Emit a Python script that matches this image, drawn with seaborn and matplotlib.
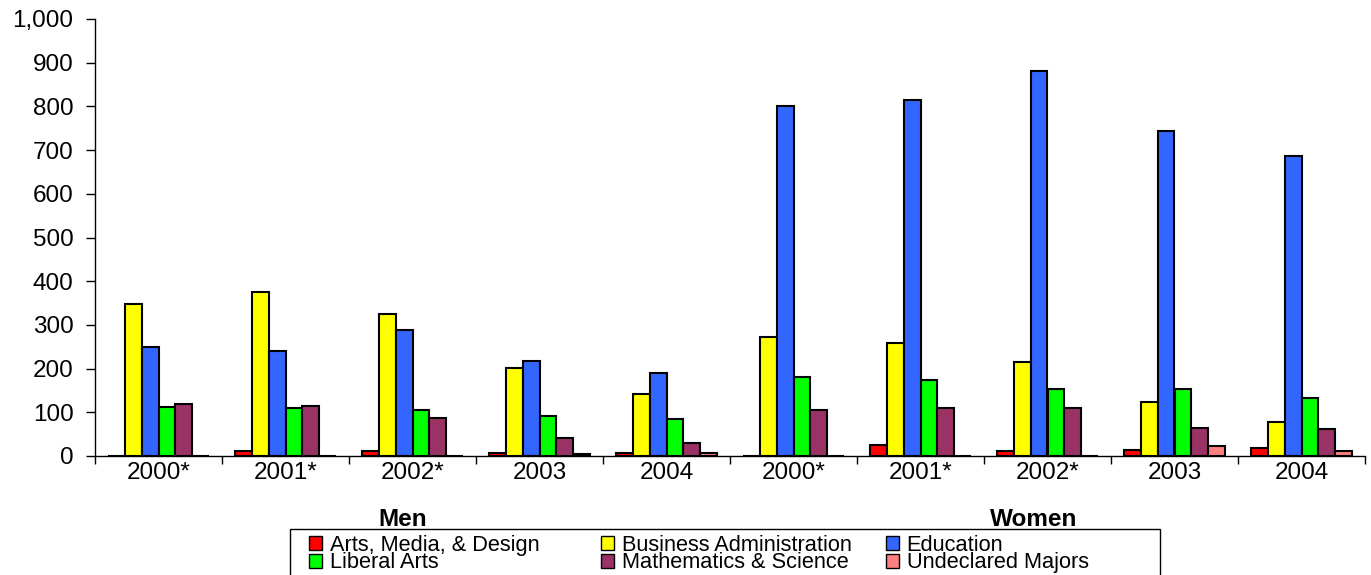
import seaborn as sns
import pandas as pd
import matplotlib.pyplot as plt
from matplotlib.ticker import FuncFormatter
from matplotlib.patches import Rectangle

# Data (Men 2000*..2004, then Women 2000*..2004)
years = ['2000*', '2001*', '2002*', '2003', '2004']
genders = ['Men', 'Women']
majors = ['Arts, Media, & Design', 'Business Administration', 'Education',
          'Liberal Arts', 'Mathematics & Science', 'Undeclared Majors']
colors = ['#FF0000', '#FFFF00', '#3366FF', '#00FF00', '#993366', '#FF8080']

arts = [0, 11, 11, 8, 8, 0, 25, 12, 13, 18]
business = [348, 375, 326, 201, 143, 272, 258, 214, 124, 78]
education = [250, 241, 288, 218, 189, 802, 815, 881, 744, 686]
liberal = [112, 109, 106, 91, 85, 181, 175, 154, 153, 132]
math_sci = [118, 114, 88, 42, 30, 105, 110, 110, 63, 62]
undeclared = [0, 0, 0, 5, 6, 0, 0, 0, 22, 12]

groups = [g + ' ' + y for g in genders for y in years]
series = [arts, business, education, liberal, math_sci, undeclared]
rows = []
for major, vals in zip(majors, series):
    for grp, v in zip(groups, vals):
        rows.append({'group': grp, 'major': major, 'count': v})
data = pd.DataFrame(rows)

sns.set_style('ticks')
plt.rcParams['font.family'] = ['Liberation Sans', 'DejaVu Sans']
plt.rcParams['text.color'] = 'black'
plt.rcParams['xtick.labelcolor'] = 'black'
plt.rcParams['ytick.labelcolor'] = 'black'

fig = plt.figure(figsize=(13.71, 5.75), dpi=100)
ax = fig.add_axes([95 / 1371, 1 - 456 / 575, (1365 - 95) / 1371, (456 - 19) / 575])

sns.barplot(data=data, x='group', y='count', hue='major', order=groups,
            hue_order=majors, palette=colors, saturation=1, width=0.8,
            edgecolor='black', linewidth=1.5, legend=False, ax=ax)

ax.set_xlim(-0.5, len(groups) - 0.5)
ax.set_ylim(0, 1000)
ax.set_yticks(range(0, 1001, 100))
ax.yaxis.set_major_formatter(FuncFormatter(lambda v, _: f'{int(v):,}'))
ax.set_xticks([i - 0.5 for i in range(len(groups) + 1)], labels=[])
ax.set_xticks(range(len(groups)), labels=years * 2, minor=True)
ax.tick_params(axis='x', which='major', length=6, width=1, color='black')
ax.tick_params(axis='x', which='minor', length=0, pad=4, labelsize=17.5,
               labelcolor='black')
ax.tick_params(axis='y', length=6.5, width=1, color='black', labelsize=17.5,
               pad=9, labelcolor='black')
ax.set_xlabel('')
ax.set_ylabel('')
sns.despine(ax=ax)
for s in ['left', 'bottom']:
    ax.spines[s].set_color('black')
    ax.spines[s].set_linewidth(1)

# group labels under the years
fig.text(403 / 1371, 1 - 519 / 575, 'Men', ha='center', va='center',
         fontsize=17.5, fontweight='bold', color='black')
fig.text(1034 / 1371, 1 - 519 / 575, 'Women', ha='center', va='center',
         fontsize=17.5, fontweight='bold', color='black')

# legend: one small legend per column, inside a hand-drawn frame
handles = [Rectangle((0, 0), 1, 1, facecolor=c, edgecolor='black', linewidth=1)
           for c in colors]
col_x = [309, 601, 886]
for j, x0 in enumerate(col_x):
    idx = [j, j + 3]
    fig.legend([handles[i] for i in idx], [majors[i] for i in idx],
               loc='upper left', bbox_to_anchor=(x0 / 1371, 1 - 535 / 575),
               ncol=1, frameon=False, fontsize=15.7, handlelength=0.6,
               handleheight=0.6, handletextpad=0.35, labelspacing=-0.17,
               borderpad=0, borderaxespad=0, labelcolor='black')
fig.patches.append(Rectangle((290 / 1371, -0.01), (1160 - 290) / 1371,
                             1 - 529 / 575 + 0.01, transform=fig.transFigure,
                             fill=False, edgecolor='black', linewidth=1))

fig.savefig('out.png', dpi=100)
